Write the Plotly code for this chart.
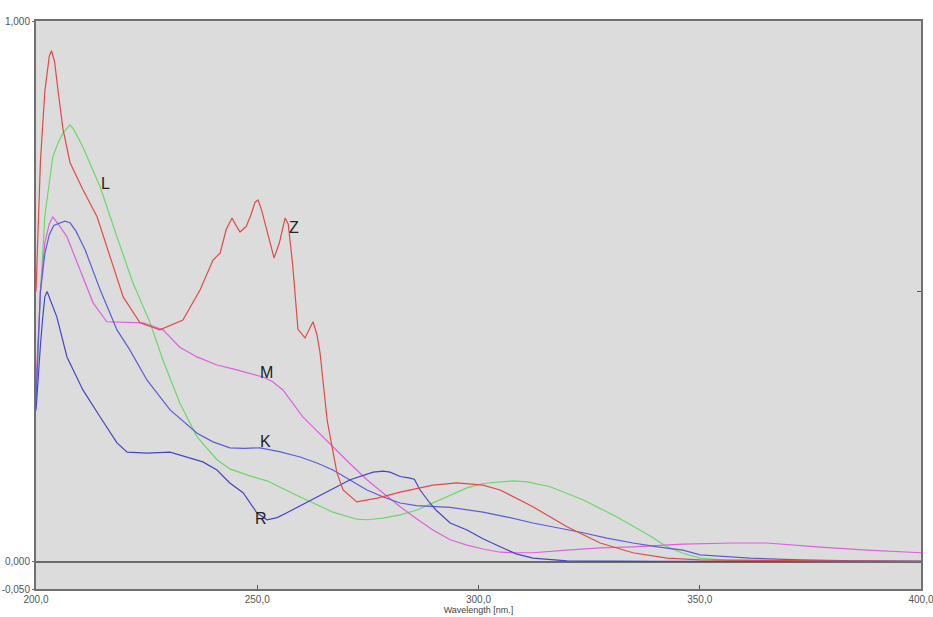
import plotly.graph_objects as go

# ---- data (wavelength nm, absorbance) ----
z_wl = [200.0, 200.5, 201.0, 202.0, 203.0, 203.5, 204.2, 205.0, 206.1, 207.7, 210.5, 213.8, 216.5, 219.7,
        223.5, 228.0, 233.2, 237.1, 240.0, 241.6, 243.0, 244.3, 245.0, 246.1, 247.5, 248.5, 249.5, 250.2,
        251.0, 252.5, 253.8, 255.0, 256.3, 257.0, 258.0, 259.2, 260.8, 262.6, 263.5, 264.2, 265.8, 266.9,
        268.0, 269.4, 272.5, 277.1, 282.3, 289.7, 295.1, 301.0, 304.9, 312.3, 320.0, 327.5, 334.9, 342.6,
        350.1, 375.0, 400.0]
z_val = [0.50, 0.62, 0.74, 0.87, 0.935, 0.945, 0.925, 0.87, 0.80, 0.738, 0.69, 0.638, 0.57, 0.49,
         0.442, 0.429, 0.447, 0.503, 0.558, 0.571, 0.615, 0.636, 0.625, 0.61, 0.62, 0.64, 0.665, 0.669,
         0.65, 0.60, 0.562, 0.59, 0.636, 0.625, 0.55, 0.43, 0.414, 0.444, 0.42, 0.386, 0.262, 0.213,
         0.165, 0.133, 0.111, 0.118, 0.129, 0.142, 0.146, 0.142, 0.133, 0.102, 0.065, 0.035, 0.017, 0.007,
         0.004, 0.002, 0.001]

l_wl = [200.0, 200.5, 201.0, 201.6, 202.0, 203.0, 203.8, 205.0, 206.1, 207.7, 208.5, 210.6, 214.5, 218.3,
        221.9, 225.8, 228.7, 232.5, 236.4, 240.9, 243.8, 248.0, 252.2, 259.7, 267.1, 272.5, 275.0, 278.4,
        282.3, 286.1, 289.7, 293.6, 297.4, 301.0, 304.9, 307.8, 311.0, 316.2, 323.6, 331.3, 338.8, 342.6,
        346.2, 350.1, 357.5, 380.0, 400.0]
l_val = [0.30, 0.40, 0.50, 0.58, 0.64, 0.70, 0.749, 0.775, 0.793, 0.808, 0.80, 0.767, 0.693, 0.601,
         0.516, 0.442, 0.373, 0.294, 0.231, 0.189, 0.172, 0.160, 0.150, 0.120, 0.092, 0.079, 0.078, 0.081,
         0.087, 0.096, 0.109, 0.122, 0.137, 0.145, 0.148, 0.150, 0.148, 0.139, 0.115, 0.083, 0.048, 0.028,
         0.016, 0.007, 0.002, 0.001, 0.001]

m_wl = [200.0, 200.5, 201.0, 202.0, 203.0, 203.8, 205.0, 207.0, 209.9, 212.9, 216.0, 221.2, 224.2, 228.7,
        232.5, 236.4, 240.9, 244.5, 248.4, 251.3, 253.5, 255.8, 260.3, 263.5, 267.1, 270.8, 274.8, 278.5,
        282.3, 286.0, 289.7, 293.6, 297.4, 301.0, 304.9, 308.5, 312.3, 320.0, 327.5, 334.9, 346.2, 357.5,
        365.2, 376.5, 387.8, 400.0]
m_val = [0.33, 0.42, 0.50, 0.59, 0.625, 0.638, 0.625, 0.601, 0.540, 0.479, 0.444, 0.442, 0.442, 0.429,
         0.397, 0.379, 0.364, 0.357, 0.349, 0.342, 0.333, 0.318, 0.268, 0.243, 0.213, 0.183, 0.152, 0.127,
         0.102, 0.080, 0.059, 0.041, 0.031, 0.024, 0.018, 0.017, 0.017, 0.022, 0.026, 0.028, 0.033, 0.035,
         0.035, 0.028, 0.022, 0.017]

k_wl = [200.0, 200.5, 201.0, 202.0, 203.0, 204.0, 205.4, 206.5, 207.7, 209.0, 211.1, 214.5, 218.3, 221.2,
        225.1, 230.3, 236.4, 240.0, 243.8, 247.0, 250.6, 255.0, 259.7, 263.5, 267.1, 271.0, 274.8, 278.5,
        282.3, 286.0, 289.7, 293.6, 301.0, 306.5, 312.3, 318.0, 323.6, 329.0, 334.9, 340.5, 346.2, 350.1,
        355.5, 361.4, 372.7, 385.0, 400.0]
k_val = [0.30, 0.42, 0.50, 0.57, 0.605, 0.622, 0.627, 0.630, 0.627, 0.612, 0.577, 0.503, 0.429, 0.392,
         0.336, 0.281, 0.238, 0.222, 0.211, 0.210, 0.211, 0.204, 0.194, 0.183, 0.170, 0.152, 0.133, 0.120,
         0.109, 0.104, 0.102, 0.101, 0.092, 0.083, 0.072, 0.063, 0.054, 0.044, 0.035, 0.028, 0.022, 0.013,
         0.010, 0.007, 0.004, 0.002, 0.001]

r_wl = [200.0, 200.5, 201.0, 201.5, 202.0, 202.5, 203.2, 204.7, 207.0, 210.6, 214.5, 218.3, 220.6, 225.1,
        230.3, 234.8, 237.7, 240.9, 243.8, 246.8, 249.9, 252.2, 254.5, 256.7, 260.0, 263.5, 267.0, 271.0,
        276.2, 278.5, 280.0, 282.3, 284.5, 285.5, 286.8, 289.0, 290.5, 293.6, 297.4, 301.0, 304.9, 308.5,
        312.3, 320.0, 340.0, 370.0, 400.0]
r_val = [0.28, 0.35, 0.40, 0.45, 0.49, 0.50, 0.485, 0.453, 0.379, 0.318, 0.268, 0.220, 0.203, 0.201,
         0.203, 0.192, 0.185, 0.170, 0.146, 0.128, 0.091, 0.078, 0.082, 0.091, 0.105, 0.120, 0.136, 0.152,
         0.166, 0.168, 0.166, 0.158, 0.155, 0.153, 0.133, 0.109, 0.095, 0.072, 0.059, 0.043, 0.028, 0.015,
         0.007, 0.002, 0.001, 0.001, 0.001]

labels = ["L", "Z", "M", "K", "R"]
label_x = [215.6, 258.3, 252.2, 251.8, 250.8]
label_y = [0.700, 0.619, 0.351, 0.222, 0.081]

x_ticks = [200, 250, 300, 350, 400]
x_ticktext = ["200,0", "250,0", "300,0", "350,0", "400,0"]
y_ticks = [-0.05, 0.0, 1.0]
y_ticktext = ["-0,050", "0,000", "1,000"]

series = [
    (l_wl, l_val, "#6ad86a"),
    (m_wl, m_val, "#dc62dc"),
    (k_wl, k_val, "#5c5cd8"),
    (r_wl, r_val, "#4646c4"),
    (z_wl, z_val, "#e24a48"),
]

fig = go.Figure()
for wl, val, col in series:
    fig.add_trace(go.Scatter(x=wl, y=val, mode="lines", line=dict(color=col, width=1.2),
                             showlegend=False, hoverinfo="skip"))

# invisible trace on right axis to carry the 0.5 tick
fig.add_trace(go.Scatter(x=[200], y=[0.5], yaxis="y2", mode="markers", marker=dict(opacity=0),
                         showlegend=False, hoverinfo="skip"))

for t, x, y in zip(labels, label_x, label_y):
    fig.add_annotation(x=x, y=y, text=t, showarrow=False,
                       font=dict(family="Liberation Sans, Arial", size=16, color="#222222"))

fig.update_layout(
    width=933, height=617,
    margin=dict(l=36, r=12, t=21, b=28, autoexpand=False),
    paper_bgcolor="white",
    plot_bgcolor="#dcdcdc",
    font=dict(family="Liberation Sans, Arial", size=10, color="#555555"),
    xaxis=dict(range=[200, 400], tickvals=x_ticks, ticktext=x_ticktext, showgrid=False,
               zeroline=False, showline=True, mirror=True, linecolor="#707070", linewidth=2,
               ticks="inside", ticklen=4, tickcolor="#555555", automargin=False,
               ticklabeloverflow="allow",
               title=dict(text="Wavelength [nm.]", font=dict(size=9, color="#444444"), standoff=0)),
    yaxis=dict(range=[-0.05, 1.0], tickvals=y_ticks, ticktext=y_ticktext, showgrid=False,
               zeroline=True, zerolinecolor="#6a6a6a", zerolinewidth=2, automargin=False,
               ticklabeloverflow="allow",
               showline=True, mirror=True, linecolor="#707070", linewidth=2,
               ticks="outside", ticklen=2, tickcolor="#707070"),
    yaxis2=dict(range=[-0.05, 1.0], overlaying="y", side="right", tickvals=[0.5],
                showticklabels=False, ticks="inside", ticklen=4, tickcolor="#555555",
                showgrid=False, zeroline=False, showline=False, automargin=False),
)

fig.write_html("out.html", config={"displayModeBar": False},
               post_script="document.body.style.margin='0';document.body.style.overflow='hidden';")
